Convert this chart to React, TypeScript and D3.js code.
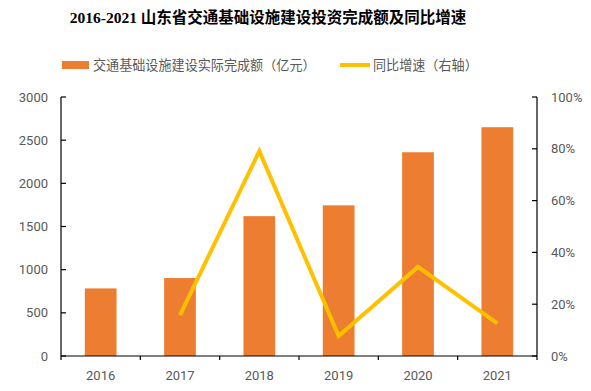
import React from 'react';
import * as d3 from 'd3';

const years = ['2016', '2017', '2018', '2019', '2020', '2021'];
const investment = [783, 903, 1620, 1745, 2360, 2650];
const growthYears = ['2017', '2018', '2019', '2020', '2021'];
const growth = [0.158, 0.791, 0.077, 0.344, 0.126];
const leftTicks = [0, 500, 1000, 1500, 2000, 2500, 3000];
const rightTicks = [0, 0.2, 0.4, 0.6, 0.8, 1];

const W = 591;
const H = 391;
const margin = { top: 97, right: 54, bottom: 35, left: 61 };
const barColor = '#ED7D31';
const lineColor = '#FFC000';
const labelColor = '#595959';
const tickFont = 'Roboto, "Noto Sans", sans-serif';

export default function App() {
  const x = d3.scaleBand().domain(years).range([margin.left, W - margin.right]).paddingInner(0.6).paddingOuter(0.3);
  const y = d3.scaleLinear().domain([0, 3000]).range([H - margin.bottom, margin.top]);
  const y2 = d3.scaleLinear().domain([0, 1]).range([H - margin.bottom, margin.top]);
  const line = d3.line<number>()
    .x((d, i) => (x(growthYears[i]) as number) + x.bandwidth() / 2)
    .y((d) => y2(d));
  const x0 = margin.left;
  const x1 = W - margin.right;
  const y0 = H - margin.bottom;
  const step = (x1 - x0) / years.length;

  return (
    <svg width={W} height={H} style={{ position: 'absolute', left: 0, top: 0 }}>
      <rect width={W} height={H} fill="#fff" />
      <text x={268} y={23} textAnchor="middle" fontSize={15.5} fontWeight="bold"
        fontFamily='"Liberation Serif", "Times New Roman", "Noto Sans CJK SC", serif' fill="#000">
        2016-2021 山东省交通基础设施建设投资完成额及同比增速
      </text>

      {/* legend */}
      <rect x={62} y={61} width={27} height={8} fill={barColor} />
      <text x={93} y={69.5} fontSize={13.1} fill={labelColor} fontFamily='"Noto Sans CJK SC", sans-serif'>
        交通基础设施建设实际完成额（亿元）
      </text>
      <line x1={340} x2={370} y1={65} y2={65} stroke={lineColor} strokeWidth={4} />
      <text x={373} y={69.5} fontSize={13.1} fill={labelColor} fontFamily='"Noto Sans CJK SC", sans-serif'>
        同比增速（右轴）
      </text>

      {/* bars */}
      {years.map((yr, i) => (
        <rect key={yr} x={x(yr)} y={y(investment[i])} width={x.bandwidth()}
          height={y0 - y(investment[i])} fill={barColor} />
      ))}

      {/* growth line */}
      <path d={line(growth) || ''} fill="none" stroke={lineColor} strokeWidth={4} strokeLinejoin="miter" />

      {/* left axis */}
      <line x1={x0} x2={x0} y1={margin.top} y2={y0} stroke="#000" strokeWidth={1.2} />
      {leftTicks.map((t) => (
        <g key={t}>
          <line x1={x0} x2={x0 + 5} y1={y(t)} y2={y(t)} stroke="#000" strokeWidth={1.2} />
          <text x={48} y={y(t)} dy="0.35em" textAnchor="end" fontSize={13} fill={labelColor} fontFamily={tickFont}>{t}</text>
        </g>
      ))}

      {/* right axis */}
      <line x1={x1} x2={x1} y1={margin.top} y2={y0} stroke="#000" strokeWidth={1.2} />
      {rightTicks.map((t) => (
        <g key={t}>
          <line x1={x1 - 5} x2={x1} y1={y2(t)} y2={y2(t)} stroke="#000" strokeWidth={1.2} />
          <text x={551} y={y2(t)} dy="0.35em" textAnchor="start" fontSize={13} fill={labelColor} fontFamily={tickFont}>
            {d3.format('.0%')(t)}
          </text>
        </g>
      ))}

      {/* bottom axis */}
      <line x1={x0} x2={x1} y1={y0} y2={y0} stroke="#000" strokeWidth={1.2} />
      {d3.range(years.length + 1).map((i) => (
        <line key={i} x1={x0 + step * i} x2={x0 + step * i} y1={y0} y2={y0 + 4} stroke="#000" strokeWidth={1.2} />
      ))}
      {years.map((yr) => (
        <text key={yr} x={(x(yr) as number) + x.bandwidth() / 2} y={375} dy="0.35em" textAnchor="middle"
          fontSize={13} fill={labelColor} fontFamily={tickFont}>{yr}</text>
      ))}
    </svg>
  );
}
